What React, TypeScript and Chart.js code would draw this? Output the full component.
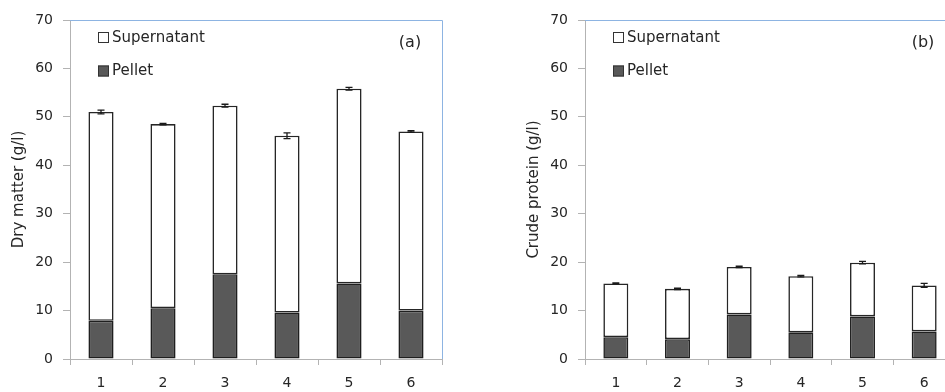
import React, { useEffect, useRef } from "react";
import { Chart, registerables } from "chart.js";

Chart.register(...registerables);

// ---- Data ----
const categories = ["1", "2", "3", "4", "5", "6"];

// (a) Dry matter (g/l)
const dmPellet = [7.9, 10.5, 17.5, 9.6, 15.6, 10.0];
const dmSupernatant = [43.1, 38.0, 34.8, 36.5, 40.2, 37.0];
const dmError = [0.4, 0.15, 0.3, 0.6, 0.3, 0.15];

// (b) Crude protein (g/l)
const cpPellet = [4.5, 4.1, 9.2, 5.5, 8.8, 5.7];
const cpSupernatant = [11.1, 10.4, 9.8, 11.6, 11.1, 9.5];
const cpError = [0.1, 0.15, 0.15, 0.15, 0.25, 0.4];

const yMin = 0;
const yMax = 70;
const yStep = 10;

const seriesNames = ["Pellet", "Supernatant"];

const FONT = "DejaVu Sans";
const AXIS_GREY = "#b3b3b3";
const FRAME_BLUE = "#8db4e2";
const TEXT = "#262626";

type PanelProps = {
  left: number;
  width: number;
  padLeft: number;
  padRight: number;
  pellet: number[];
  supernatant: number[];
  errors: number[];
  yTitle: string;
  panel: string;
};

function Panel(props: PanelProps) {
  const ref = useRef<HTMLCanvasElement | null>(null);

  useEffect(() => {
    const canvas = ref.current;
    if (!canvas) return;

    const frame = {
      id: "frame",
      afterDatasetsDraw(chart: any) {
        const { ctx, chartArea } = chart;
        ctx.save();
        ctx.strokeStyle = FRAME_BLUE;
        ctx.lineWidth = 1;
        ctx.beginPath();
        ctx.moveTo(chartArea.left, chartArea.top + 0.5);
        ctx.lineTo(chartArea.right + 0.5, chartArea.top + 0.5);
        ctx.lineTo(chartArea.right + 0.5, chartArea.bottom);
        ctx.stroke();
        ctx.restore();
      },
    };

    const errorBars = {
      id: "errorBars",
      afterDatasetsDraw(chart: any) {
        const { ctx } = chart;
        const meta = chart.getDatasetMeta(1);
        const ys = chart.scales.y;
        ctx.save();
        ctx.strokeStyle = "#1a1a1a";
        ctx.lineWidth = 1.3;
        meta.data.forEach((bar: any, i: number) => {
          const total = props.pellet[i] + props.supernatant[i];
          const e = props.errors[i];
          const x = bar.x;
          const yTop = ys.getPixelForValue(total + e);
          const yBot = ys.getPixelForValue(total - e);
          ctx.beginPath();
          ctx.moveTo(x, yTop);
          ctx.lineTo(x, yBot);
          ctx.moveTo(x - 3.5, yTop);
          ctx.lineTo(x + 3.5, yTop);
          ctx.moveTo(x - 3.5, yBot);
          ctx.lineTo(x + 3.5, yBot);
          ctx.stroke();
        });
        ctx.restore();
      },
    };

    const legendAndLabel = {
      id: "legendAndLabel",
      afterDraw(chart: any) {
        const { ctx, chartArea } = chart;
        ctx.save();
        const ds = chart.data.datasets.slice().reverse();
        const rows = [37.5, 71];
        ds.forEach((d: any, i: number) => {
          const bx = chartArea.left + 28;
          const cy = rows[i];
          ctx.fillStyle = d.backgroundColor;
          ctx.fillRect(bx, cy - 5.5, 11, 11);
          ctx.strokeStyle = "#333";
          ctx.lineWidth = 1;
          ctx.strokeRect(bx + 0.5, cy - 5.5 + 0.5, 10, 10);
          ctx.fillStyle = TEXT;
          ctx.font = `15px "${FONT}"`;
          ctx.textAlign = "left";
          ctx.textBaseline = "middle";
          ctx.fillText(d.label, bx + 14, cy + 0.5);
        });
        ctx.font = `16px "${FONT}"`;
        ctx.fillStyle = TEXT;
        ctx.textAlign = "center";
        ctx.textBaseline = "middle";
        ctx.fillText(props.panel, chartArea.right - 32, chartArea.top + 23);
        ctx.restore();
      },
    };

    const chart = new Chart(canvas, {
      type: "bar",
      data: {
        labels: categories,
        datasets: [
          {
            label: seriesNames[0],
            data: props.pellet,
            backgroundColor: "#595959",
            borderColor: "#1f1f1f",
            borderWidth: 1.6,
            borderSkipped: false,
            barPercentage: 1,
            categoryPercentage: 0.405,
          },
          {
            label: seriesNames[1],
            data: props.supernatant,
            backgroundColor: "#ffffff",
            borderColor: "#262626",
            borderWidth: 1.6,
            borderSkipped: false,
            barPercentage: 1,
            categoryPercentage: 0.405,
          },
        ],
      },
      options: {
        responsive: false,
        animation: false,
        devicePixelRatio: 1,
        layout: {
          padding: { top: 20, left: props.padLeft, right: props.padRight, bottom: 0 },
        },
        plugins: {
          legend: { display: false },
          tooltip: { enabled: false },
        },
        scales: {
          x: {
            stacked: true,
            afterFit: (s: any) => {
              s.height = 33;
            },
            grid: {
              offset: true,
              drawOnChartArea: false,
              tickLength: 6,
              color: AXIS_GREY,
            },
            border: { color: AXIS_GREY, width: 1 },
            ticks: {
              padding: 10,
              color: TEXT,
              font: { family: FONT, size: 14 },
            },
          },
          y: {
            stacked: true,
            min: yMin,
            max: yMax,
            afterFit: (s: any) => {
              s.width = 70;
            },
            grid: {
              drawOnChartArea: false,
              tickLength: 7,
              color: AXIS_GREY,
            },
            border: { color: AXIS_GREY, width: 1 },
            ticks: {
              stepSize: yStep,
              padding: 10,
              color: TEXT,
              font: { family: FONT, size: 14 },
            },
            title: {
              display: true,
              text: props.yTitle,
              color: TEXT,
              font: { family: FONT, size: 15 },
              padding: { top: 10, bottom: 0 },
            },
          },
        },
      },
      plugins: [frame, errorBars, legendAndLabel],
    } as any);

    return () => chart.destroy();
  }, []);

  return (
    <div style={{ position: "absolute", left: props.left, top: 0, width: props.width, height: 392 }}>
      <canvas ref={ref} width={props.width} height={392} style={{ display: "block" }} />
    </div>
  );
}

export default function App() {
  return (
    <div
      style={{
        position: "fixed",
        left: 0,
        top: 0,
        width: 945,
        height: 392,
        overflow: "hidden",
        background: "#ffffff",
      }}
    >
      <Panel
        left={0}
        width={470}
        padLeft={0}
        padRight={28}
        pellet={dmPellet}
        supernatant={dmSupernatant}
        errors={dmError}
        yTitle="Dry matter (g/l)"
        panel="(a)"
      />
      <Panel
        left={470}
        width={490}
        padLeft={45}
        padRight={5}
        pellet={cpPellet}
        supernatant={cpSupernatant}
        errors={cpError}
        yTitle="Crude protein (g/l)"
        panel="(b)"
      />
    </div>
  );
}
